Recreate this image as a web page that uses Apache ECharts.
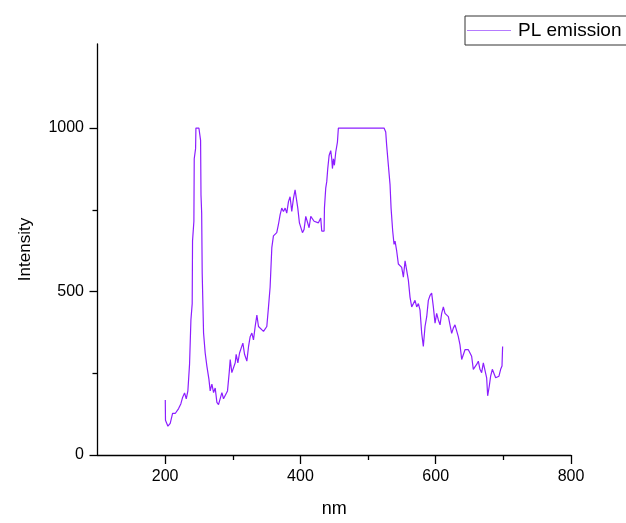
<!DOCTYPE html>
<html>
<head>
<meta charset="utf-8">
<script src="https://cdn.jsdelivr.net/npm/echarts@6/dist/echarts.min.js"></script>
<style>
html,body{margin:0;padding:0;background:#fff;}
#chart{width:626px;height:523px;}
</style>
</head>
<body>
<div id="chart"></div>
<script>
const wavelength = [200.2,200.5,204.1,207.5,211,214.9,217.4,219.9,223.3,225.8,228.7,231.2,233.6,235.6,236.1,238.1,240,240.5,242.5,243,245,245.5,249.9,252.4,253,254,254.8,256.8,259.2,261.7,264.7,266.6,269.1,271.6,274,276.5,278.9,281.4,283.9,286.3,288.8,292.2,294.7,296.2,298.6,301.1,303.6,305,307.5,310,312.4,314.9,317.4,320.8,323.3,325.7,328.2,330.6,333.1,335.6,338,340.5,345.4,350.3,352.8,355.2,357.7,360.1,365,367.5,370,372.4,374.9,377.4,379.8,382.3,384.7,387.2,389.7,392.1,394.6,396.1,398.5,401,403,405.4,407.9,410.3,412.8,415.3,417.7,420.2,422.7,426.6,430,431.5,435,435.5,437.4,438.9,440.4,442.4,444.8,446.3,447.3,448.8,450.2,452.2,454.7,456.1,523.6,526.1,527.5,530,532.5,534,536.4,538.4,539.9,542.3,544.8,547.3,549.7,552.2,554.7,557.1,559.6,562,564.5,567,569.4,571.9,574.4,576.8,579.3,581.7,584.2,586.7,589.1,591.6,594,596.5,599,601.4,603.9,606.4,608.8,611.3,613.7,616.2,618.7,621.1,623.6,626,628.5,631,633.4,635.9,638.4,640.8,643.3,645.8,648.2,650.7,653.1,655.6,658.1,660.5,663,665.4,667.9,670.4,672.8,675.3,676.8,679.2,681.2,683.7,686.1,688.6,691.1,693.5,696,698,698.9];
const intensity = [168,106,88,97,127,127,121,142,157,176,190,172,196,196,278,413,463,655,715,906,937,1000,1000,962,795,740,554,373,312,272,232,196,217,191,205,161,154,155,191,172,178,196,252,292,252,252,282,308,282,312,327,342,308,287,332,362,373,352,393,428,393,388,378,393,453,514,634,670,680,705,735,755,745,755,740,775,790,745,785,811,815,755,710,705,680,690,730,735,695,730,725,715,720,710,725,685,685,755,816,836,876,916,931,906,876,906,886,926,957,1000,1000,988,947,886,826,755,685,644,654,624,584,589,574,544,594,599,534,483,453,463,473,453,463,443,372,332,393,423,473,488,495,453,403,433,413,398,433,453,433,428,423,398,372,388,398,398,362,337,292,297,322,327,322,312,302,262,257,277,287,262,252,282,282,236,181,211,241,262,257,236,236,241,262,272,332];
const xMajorTicks = [200,400,600,800];
const xMinorTicks = [300,500,700];
const yMajorTicks = [0,500,1000];
const yMinorTicks = [250,750];
const seriesName = 'PL emission';

const FONT = '"Liberation Sans", Arial, sans-serif';
const lineColor = '#8C1EFF';
const legendLineColor = '#B57BFF';
const axisColor = '#000';

const chart = echarts.init(document.getElementById('chart'), null, {renderer:'canvas'});
const data = wavelength.map((x,i)=>[x,intensity[i]]);

const baseX = {type:'value', min:100, max:800, gridIndex:0, splitLine:{show:false}};
const baseY = {type:'value', min:0, max:1257, gridIndex:0, splitLine:{show:false}};
const fmt = v => String(v);

chart.setOption({
  backgroundColor:'#fff',
  animation:false,
  grid:{left:97.5, right:55, top:44, bottom:63},
  legend:{
    show:true,
    left:465, top:16,
    data:[{name:seriesName, icon:'path://M0,0 L44,0 L44,1 L0,1 Z'}],
    itemWidth:44, itemHeight:1,
    itemStyle:{color:legendLineColor, borderWidth:0},
    lineStyle:{color:legendLineColor, width:1},
    padding:[5,12,5,2],
    borderColor:'#333', borderWidth:1, borderRadius:0,
    textStyle:{fontFamily:FONT, fontSize:19, color:'#000', padding:[0,0,0,2]}
  },
  xAxis:[
    Object.assign({}, baseX, {
      name:'nm', nameLocation:'middle', nameGap:45,
      nameTextStyle:{fontFamily:FONT, fontSize:18, color:'#000'},
      axisLine:{show:true, onZero:false, lineStyle:{color:axisColor, width:1.3}},
      axisTick:{show:true, inside:false, length:9, customValues:xMajorTicks, lineStyle:{color:axisColor, width:1.3}},
      axisLabel:{show:true, margin:13.5, customValues:xMajorTicks, formatter:fmt, fontFamily:FONT, fontSize:16, color:'#000'}
    }),
    Object.assign({}, baseX, {
      position:'bottom',
      axisLine:{show:false, onZero:false},
      axisTick:{show:true, inside:false, length:5, customValues:xMinorTicks, lineStyle:{color:axisColor, width:1.3}},
      axisLabel:{show:false}
    })
  ],
  yAxis:[
    Object.assign({}, baseY, {
      name:'Intensity', nameLocation:'middle', nameGap:64,
      nameTextStyle:{fontFamily:FONT, fontSize:17, color:'#000'},
      axisLine:{show:true, onZero:false, lineStyle:{color:axisColor, width:1.3}},
      axisTick:{show:true, inside:false, length:8, customValues:yMajorTicks, lineStyle:{color:axisColor, width:1.3}},
      axisLabel:{show:true, margin:13.5, customValues:yMajorTicks, formatter:fmt, fontFamily:FONT, fontSize:16, color:'#000'}
    }),
    Object.assign({}, baseY, {
      position:'left',
      axisLine:{show:false, onZero:false},
      axisTick:{show:true, inside:false, length:5, customValues:yMinorTicks, lineStyle:{color:axisColor, width:1.3}},
      axisLabel:{show:false}
    })
  ],
  series:[{
    name:seriesName,
    type:'line',
    xAxisIndex:0, yAxisIndex:0,
    data:data,
    symbol:'none',
    showSymbol:false,
    lineStyle:{color:lineColor, width:1.2},
    itemStyle:{color:lineColor},
    silent:true
  }]
});
</script>
</body>
</html>
